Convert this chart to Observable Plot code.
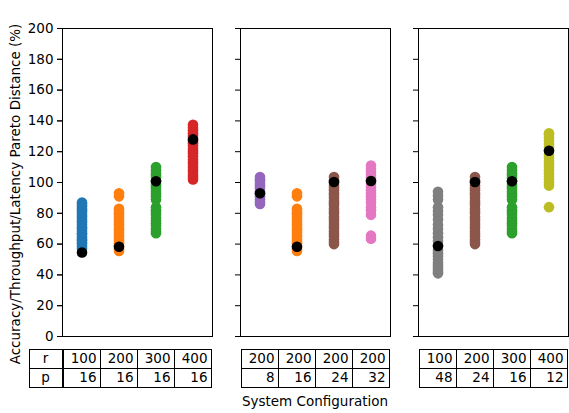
<!DOCTYPE html>
<html>
<head>
<meta charset="utf-8">
<script src="https://cdn.jsdelivr.net/npm/d3@7"></script>
<script src="https://cdn.jsdelivr.net/npm/@observablehq/plot@0.6"></script>
<style>
  html, body { margin: 0; padding: 0; background: white; }
  #chart { width: 569px; height: 413px; }
</style>
</head>
<body>
<div id="chart"></div>
<script>
// ---- data ----
const yTicks = [0, 20, 40, 60, 80, 100, 120, 140, 160, 180, 200];
const rRow = [[100, 200, 300, 400], [200, 200, 200, 200], [100, 200, 300, 400]];
const pRow = [[16, 16, 16, 16], [8, 16, 24, 32], [48, 24, 16, 12]];

const r100p16 = [57, 58.5, 60, 61, 62.5, 63, 64.5, 66, 67, 68.5, 70, 71, 72.5, 74, 75, 76.5, 78, 79, 80.5, 82, 83, 84.5, 86, 87];
const r200p16 = [55.5, 57, 59, 60.5, 62, 63.5, 65, 66, 67.5, 69, 70.5, 72, 73, 74.5, 76, 77.5, 79, 80, 81.5, 83, 91, 93];
const r300p16 = [67, 68.5, 70, 72, 73.5, 75, 77, 79, 80.5, 82, 84, 89, 91, 92.5, 94, 96, 97.5, 99, 101, 103, 104.5, 106, 108, 110];
const r400p16 = [102, 103.5, 105, 107, 108.5, 110, 112, 113.5, 115, 117, 119, 120.5, 122, 124, 125.5, 127, 129, 130.5, 132, 134, 135.5, 137.5];
const r200p8 = [86, 87.5, 89, 91, 92.5, 94, 96, 97.5, 99, 101, 102, 103.5];
const r200p24 = [60, 61.5, 63, 65, 66.5, 68, 70, 71.5, 73, 75, 76.5, 78, 80, 81.5, 83, 85, 86.5, 88, 90, 91.5, 93, 95, 96.5, 98, 100, 101.5, 103.5];
const r200p32 = [63.5, 65.5, 79, 82, 84, 87, 89, 91, 93, 95, 97, 99, 101, 103, 105, 107, 109, 111];
const r100p48 = [41, 42, 43.5, 45, 46.5, 48, 50, 52, 54, 56, 59, 62, 64.5, 67, 70, 72.5, 76, 79, 81.5, 84, 89, 91.5, 94];
const r400p12 = [84, 98, 100, 102, 104, 106, 108, 110, 112, 114, 116, 118, 121, 123, 125, 127, 129, 131, 132];

const configKeys = ["r100p16", "r200p16", "r300p16", "r400p16", "r200p8", "r200p24", "r200p32", "r100p48", "r400p12"];
const configColors = ["#1f77b4", "#ff7f0e", "#2ca02c", "#d62728", "#9467bd", "#8c564b", "#e377c2", "#7f7f7f", "#bcbd22"];
const bestValues = [54.5, 58.3, 100.8, 128, 93, 100.3, 101, 58.8, 120.6];

const yLabel = "Accuracy/Throughput/Latency Pareto Distance (%)";
const xLabel = "System Configuration";

(function () {
// ---- build tables for the marks ----
const seriesByKey = new Map([
  ["r100p16", r100p16], ["r200p16", r200p16], ["r300p16", r300p16], ["r400p16", r400p16],
  ["r200p8", r200p8], ["r200p24", r200p24], ["r200p32", r200p32], ["r100p48", r100p48], ["r400p12", r400p12]
]);
const points = [];
const bests = [];
rRow.forEach((rs, panel) => rs.forEach((r, slot) => {
  const key = `r${r}p${pRow[panel][slot]}`;
  for (const v of seriesByKey.get(key)) points.push({panel, slot, key, value: v});
  bests.push({panel, slot, key, value: bestValues[configKeys.indexOf(key)]});
}));

const FONT = "'DejaVu Sans', sans-serif";
const FS = 13.5;

const chart = Plot.plot({
  width: 569,
  height: 413,
  marginLeft: 62,
  marginRight: 1,
  marginTop: 28,
  marginBottom: 77,
  style: {fontFamily: FONT, fontSize: FS + "px", color: "black", background: "white", overflow: "visible"},
  fx: {domain: [0, 1, 2], paddingInner: 28 / 178, paddingOuter: 0, axis: null, label: null},
  x: {type: "band", domain: [0, 1, 2, 3], padding: 0, axis: null},
  y: {domain: [0, 200], label: null, axis: null},
  color: {domain: configKeys, range: configColors},
  marks: [
    Plot.axisY({ticks: yTicks, tickSize: 5, tickFormat: () => "", facetAnchor: null, label: null, stroke: "black"}),
    Plot.axisY({ticks: yTicks, tickSize: 5, tickPadding: 4, label: null, stroke: "black", fill: "black", fontSize: FS}),
    Plot.dot(points, {fx: "panel", x: "slot", y: "value", fill: "key", r: 5.3}),
    Plot.dot(bests, {fx: "panel", x: "slot", y: "value", fill: "black", r: 5.3}),
    Plot.frame({stroke: "black", strokeWidth: 1})
  ]
});
document.getElementById("chart").appendChild(chart);

// ---- table below panels, positioned with the plot's own scales ----
const fxS = chart.scale("fx");
const xS = chart.scale("x");
const fxA = fxS.apply ? (v) => fxS.apply(v) : d3.scaleBand(fxS.domain, fxS.range).paddingInner(fxS.paddingInner ?? 0).paddingOuter(fxS.paddingOuter ?? 0).align(fxS.align ?? 0.5);
const xA = xS.apply ? (v) => xS.apply(v) : d3.scaleBand(xS.domain, xS.range).padding(0);
const bw = xS.bandwidth;
const fbw = fxS.bandwidth;

const svg = d3.select(chart);
const g = svg.append("g").attr("font-family", FONT).attr("font-size", FS).attr("fill", "black");
const tableTop = 349, rowH = 19;
const rowLabels = ["r", "p"];
const rowVals = [rRow, pRow];

function cell(x0, y0, w, h) {
  g.append("rect").attr("x", x0 + 0.5).attr("y", y0 + 0.5).attr("width", w).attr("height", h)
    .attr("fill", "none").attr("stroke", "black").attr("stroke-width", 1);
}
function txt(x, y, s, anchor) {
  g.append("text").attr("x", x).attr("y", y).attr("dy", "0.35em").attr("text-anchor", anchor).text(s);
}

for (let panel = 0; panel < 3; panel++) {
  const left = Math.round(fxA(panel));
  for (let row = 0; row < 2; row++) {
    const y0 = tableTop + row * rowH;
    if (panel === 0) {
      const lx = left - 33;
      cell(lx, y0, 33, rowH);
      txt(lx + 16.5, y0 + rowH / 2, rowLabels[row], "middle");
    }
    for (let slot = 0; slot < 4; slot++) {
      const cx0 = Math.round(left + xA(slot) - xS.range[0]);
      const cx1 = Math.round(left + xA(slot) - xS.range[0] + bw);
      cell(cx0, y0, cx1 - cx0, rowH);
      txt(cx1 - 3.5, y0 + rowH / 2, String(rowVals[row][panel][slot]), "end");
    }
  }
}

// axis titles
const ls = svg.append("g").attr("font-family", FONT).attr("font-size", FS).attr("fill", "black");
ls.append("text").attr("transform", "translate(15,194) rotate(-90)").attr("text-anchor", "middle")
  .attr("dy", "0.35em").text(yLabel);
ls.append("text").attr("x", fxA(1) + fbw / 2).attr("y", 401).attr("text-anchor", "middle")
  .attr("dy", "0.35em").text(xLabel);
})();
</script>
</body>
</html>
